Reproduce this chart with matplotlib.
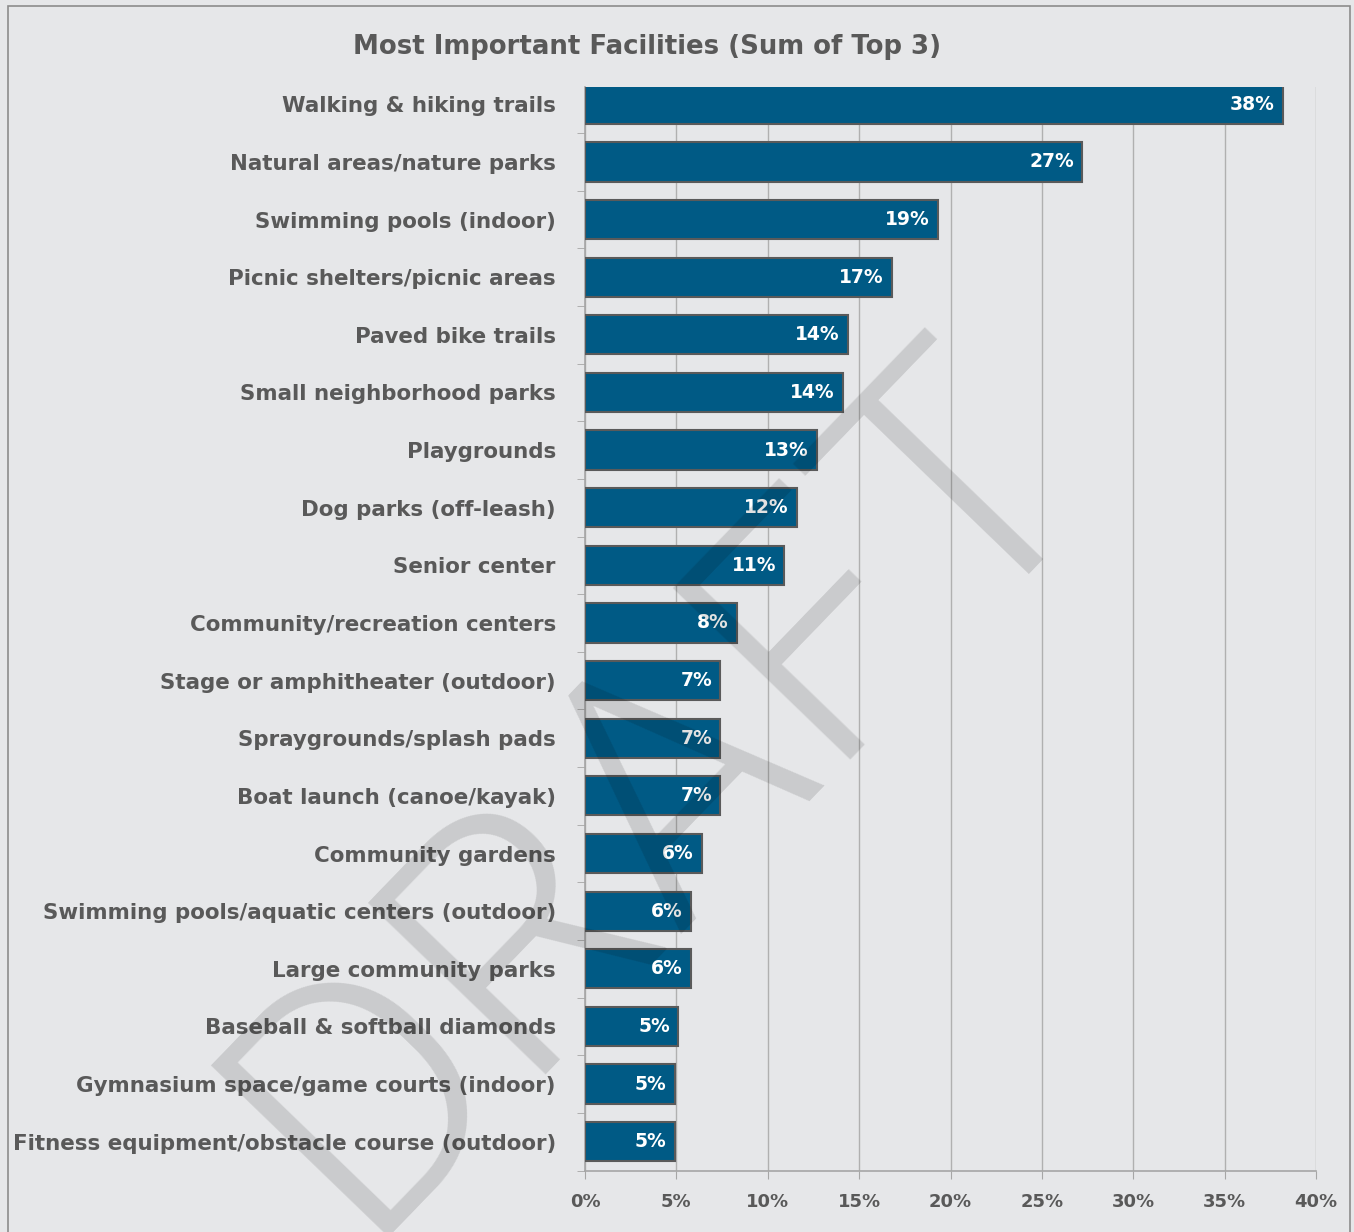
import numpy as np
import matplotlib.pyplot as plt
from matplotlib.patches import Rectangle

# facilities, top to bottom
facilities = [
    "Walking & hiking trails",
    "Natural areas/nature parks",
    "Swimming pools (indoor)",
    "Picnic shelters/picnic areas",
    "Paved bike trails",
    "Small neighborhood parks",
    "Playgrounds",
    "Dog parks (off-leash)",
    "Senior center",
    "Community/recreation centers",
    "Stage or amphitheater (outdoor)",
    "Spraygrounds/splash pads",
    "Boat launch (canoe/kayak)",
    "Community gardens",
    "Swimming pools/aquatic centers (outdoor)",
    "Large community parks",
    "Baseball & softball diamonds",
    "Gymnasium space/game courts (indoor)",
    "Fitness equipment/obstacle course (outdoor)",
]
# share of respondents (sum of top 3 choices)
share = [0.382, 0.272, 0.193, 0.168, 0.144, 0.141, 0.127, 0.116, 0.109,
         0.083, 0.074, 0.074, 0.074, 0.064, 0.058, 0.058, 0.051, 0.049, 0.049]
xticks = [0, 0.05, 0.10, 0.15, 0.20, 0.25, 0.30, 0.35, 0.40]

bg = "#e6e7e9"
bar_color = "#005a85"
txt_color = "#595959"
font = "DejaVu Sans"

fig = plt.figure(figsize=(13.54, 12.32), dpi=100, facecolor=bg)
ax = fig.add_axes([585/1354, 1 - 1170.5/1232, (1316 - 585)/1354, (1170.5 - 87)/1232])
ax.set_facecolor(bg)

y = np.arange(len(facilities))
ax.barh(y, share, height=0.68, color=bar_color, edgecolor="#5a5a5a",
        linewidth=1.5, zorder=3)

for yi, v in zip(y, share):
    ax.text(v - 0.0045, yi, f"{v*100:.0f}%", ha="right", va="center",
            color="white", fontsize=13.5, fontweight="bold", family=font, zorder=4)

ax.set_xlim(0, 0.40)
ax.set_ylim(18.5, -0.3)
ax.set_xticks(xticks)
ax.set_xticklabels([f"{t*100:.0f}%" for t in xticks])
ax.set_yticks(y)
ax.set_yticklabels(facilities)
ax.set_yticks(np.arange(len(facilities)) + 0.5, minor=True)

ax.grid(axis="x", color="#b0b0b0", linewidth=1.0, zorder=0)
for s in ["top", "right"]:
    ax.spines[s].set_visible(False)
for s in ["left", "bottom"]:
    ax.spines[s].set_color("#a6a6a6")
    ax.spines[s].set_linewidth(1.2)

ax.tick_params(axis="y", which="major", length=0, pad=21)
ax.tick_params(axis="y", which="minor", length=6, color="#a6a6a6")
ax.tick_params(axis="x", length=6, color="#a6a6a6", pad=10)
for lab in ax.get_yticklabels():
    lab.set_fontsize(15.4)
    lab.set_fontweight("bold")
    lab.set_color(txt_color)
    lab.set_family(font)
for lab in ax.get_xticklabels():
    lab.set_fontsize(13)
    lab.set_fontweight("bold")
    lab.set_color(txt_color)
    lab.set_family(font)

fig.text(647/1354, 1 - 47/1232, "Most Important Facilities (Sum of Top 3)",
         ha="center", va="center", fontsize=18.7, fontweight="bold",
         color=txt_color, family=font)

# watermark across the chart
fig.text(0.487, 0.362, "DRAFT", ha="center", va="center", rotation=46,
         fontsize=250, family="Roboto", fontweight=300, color="black",
         alpha=0.12, zorder=10)

# thin frame around the figure
fig.patches.append(Rectangle((8/1354, -0.01), (1350 - 8)/1354, 1.01 - 6/1232,
                             transform=fig.transFigure, fill=False,
                             edgecolor="#8c8c8c", linewidth=1.2))

fig.savefig("out.png", dpi=100, facecolor=bg)
